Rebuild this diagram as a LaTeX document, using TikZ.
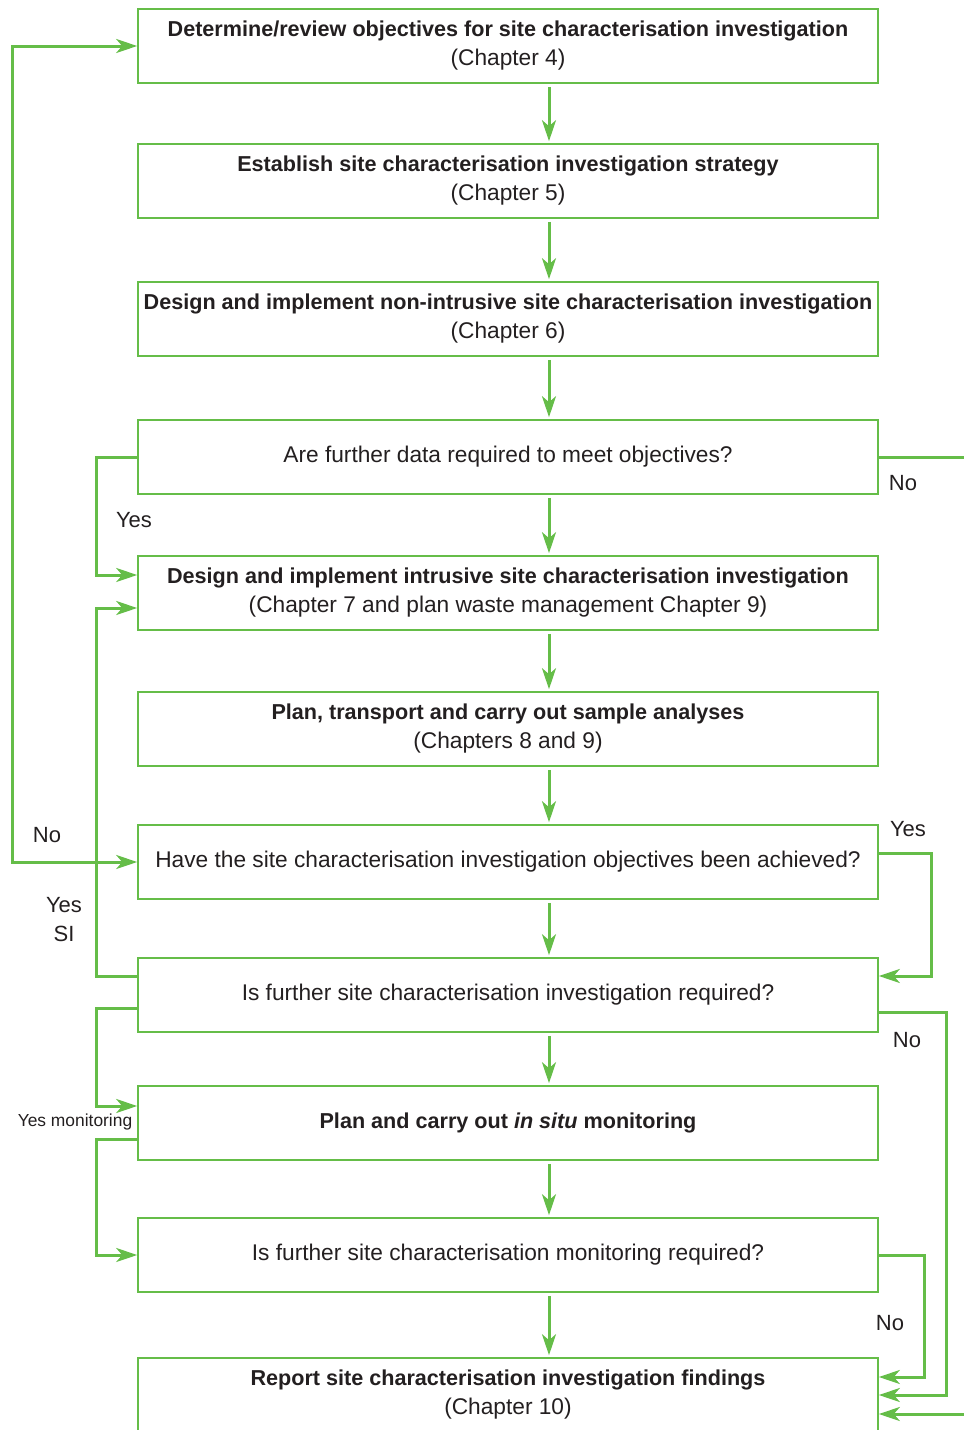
\documentclass[tikz,border=0pt]{standalone}
\usepackage{fontspec}
\setmainfont{Liberation Sans}
\usetikzlibrary{arrows.meta}
\definecolor{flowgreen}{RGB}{101,189,72}
\definecolor{ink}{RGB}{35,31,32}
\newcommand\headtxt[1]{{\fontsize{21.6}{29}\selectfont\bfseries #1}}
\begin{document}
\begin{tikzpicture}[x=1pt,y=-1pt,
  >={Stealth[length=21pt,width=14pt,inset=6pt]},
  stage/.style={draw=flowgreen, line width=1.6pt, minimum width=740pt,
    minimum height=74pt, inner sep=0pt, align=center, text=ink,
    font=\fontsize{22.7}{29}\selectfont},
  link/.style={draw=flowgreen, line width=3pt, line join=miter, ->},
  down/.style={link, shorten <=3pt, shorten >=2pt},
  lbl/.style={text=ink, inner sep=0pt, font=\fontsize{22}{29}\selectfont},
  small/.style={text=ink, inner sep=0pt, font=\fontsize{17.4}{20}\selectfont}]
\clip (0,0) rectangle (964,1430);

% process and decision boxes
\node[stage] (b1) at (508,46) {\headtxt{Determine/review objectives for site characterisation investigation}\\(Chapter 4)};
\node[stage] (b2) at (508,181) {\headtxt{Establish site characterisation investigation strategy}\\(Chapter 5)};
\node[stage] (b3) at (508,319) {\headtxt{Design and implement non-intrusive site characterisation investigation}\\(Chapter 6)};
\node[stage] (b4) at (508,457) {Are further data required to meet objectives?};
\node[stage] (b5) at (508,593) {\headtxt{Design and implement intrusive site characterisation investigation}\\(Chapter 7 and plan waste management Chapter 9)};
\node[stage] (b6) at (508,729) {\headtxt{Plan, transport and carry out sample analyses}\\(Chapters 8 and 9)};
\node[stage] (b7) at (508,862) {Have the site characterisation investigation objectives been achieved?};
\node[stage] (b8) at (508,995) {Is further site characterisation investigation required?};
\node[stage] (b9) at (508,1123) {\headtxt{Plan and carry out \textit{in situ} monitoring}};
\node[stage] (b10) at (508,1255) {Is further site characterisation monitoring required?};
\node[stage] (b11) at (508,1395) {\headtxt{Report site characterisation investigation findings}\\(Chapter 10)};

% main downward flow, set right of the box centres
\foreach \a/\b in {b1/b2,b2/b3,b3/b4,b4/b5,b5/b6,b6/b7,b7/b8,b8/b9,b9/b10,b10/b11}
  \draw[down] ([xshift=41pt]\a.south) -- ([xshift=41pt]\b.north);

% left-hand loops
\draw[link, <->] (b7.west) -- ++(-125,0) |- (b1.west);
\draw[link] (b4.west) -- ++(-41,0) |- ([yshift=18pt]b5.west);
\draw[link] ([yshift=19pt]b8.west) -- ++(-41,0) |- ([yshift=-15pt]b5.west);
\draw[link] ([yshift=-13pt]b8.west) -- ++(-41,0) |- ([yshift=17pt]b9.west);
\draw[link] ([yshift=-16pt]b9.west) -- ++(-41,0) |- (b10.west);

% right-hand loops
\draw[link] (b4.east) -- ++(92,0) |- ([yshift=-19pt]b11.east);
\draw[link] ([yshift=9pt]b7.east) -- ++(53,0) |- ([yshift=19pt]b8.east);
\draw[link] ([yshift=-17pt]b8.east) -- ++(68,0) |- (b11.east);
\draw[link] (b10.east) -- ++(46,0) |- ([yshift=18pt]b11.east);

% branch labels
\node[lbl] (n1) at (903,483) {No};
\node[lbl] (y1) at (134,520) {Yes};
\node[lbl] (n2) at (47,835) {No};
\node[lbl, align=center] (y2) at (64,920) {Yes\\SI};
\node[lbl] (y3) at (908,829) {Yes};
\node[lbl] (n3) at (907,1040) {No};
\node[small] (y4) at (75,1122) {Yes monitoring};
\node[lbl] (n4) at (890,1323) {No};
\end{tikzpicture}
\end{document}
